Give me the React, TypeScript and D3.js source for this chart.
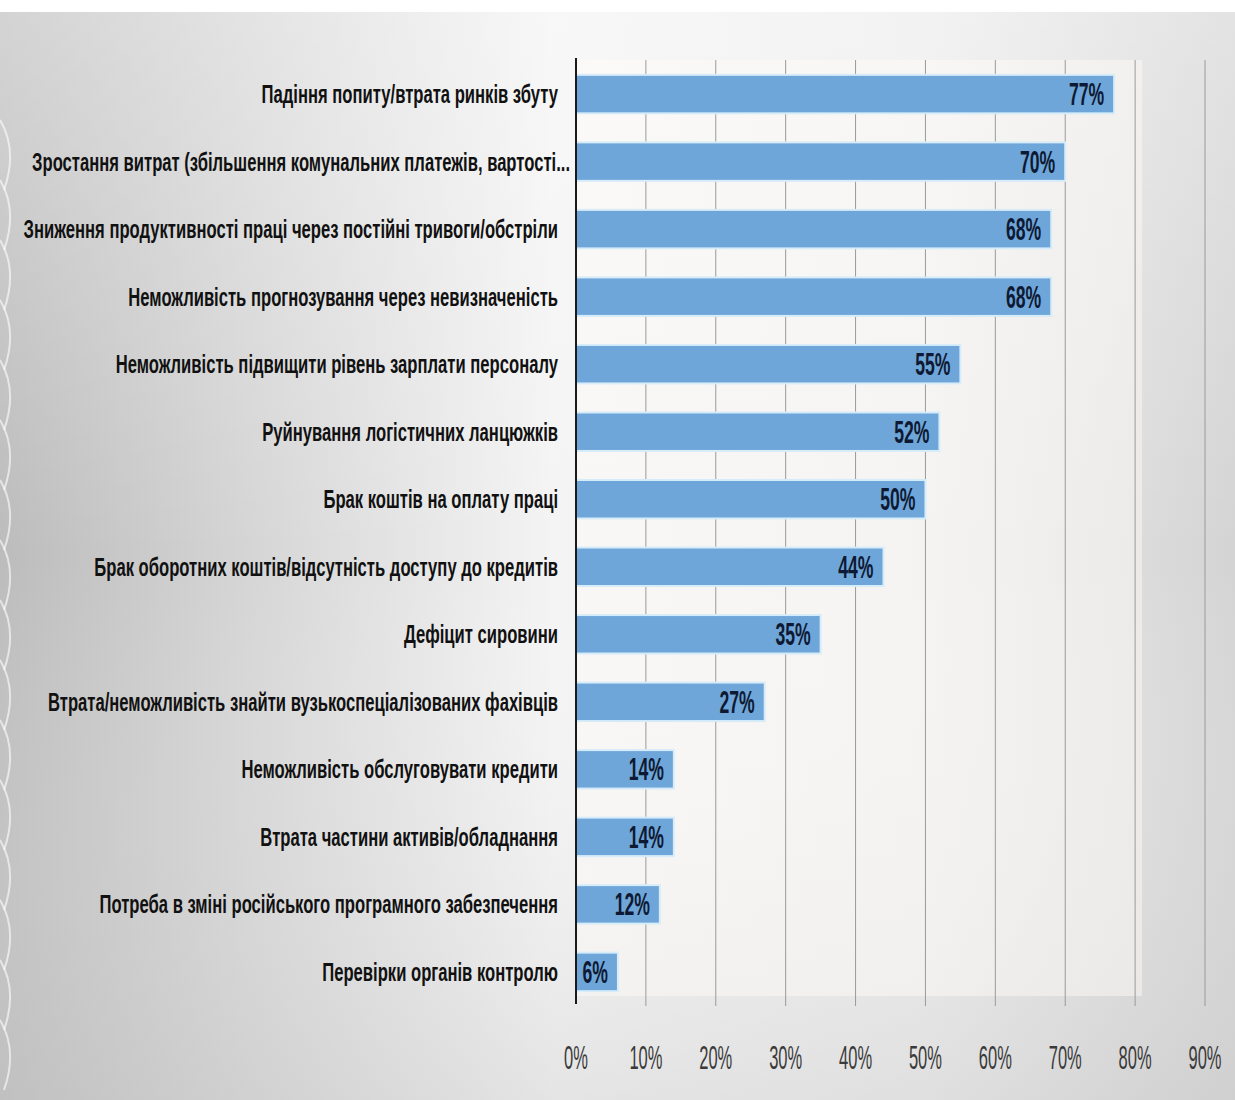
import React from "react";
import * as d3 from "d3";

const categories = [
  "Падіння попиту/втрата ринків збуту",
  "Зростання  витрат (збільшення комунальних платежів, вартості...",
  "Зниження продуктивності праці через постійні тривоги/обстріли",
  "Неможливість прогнозування через невизначеність",
  "Неможливість підвищити рівень зарплати персоналу",
  "Руйнування логістичних ланцюжків",
  "Брак коштів на оплату праці",
  "Брак оборотних коштів/відсутність доступу до кредитів",
  "Дефіцит сировини",
  "Втрата/неможливість знайти вузькоспеціалізованих фахівців",
  "Неможливість обслуговувати кредити",
  "Втрата частини активів/обладнання",
  "Потреба в зміні російського програмного забезпечення",
  "Перевірки органів контролю",
];
const values = [77, 70, 68, 68, 55, 52, 50, 44, 35, 27, 14, 14, 12, 6];
const ticks = [0, 10, 20, 30, 40, 50, 60, 70, 80, 90];

const W = 1235;
const H = 1100;
const FONT = "'Liberation Sans', Arial, sans-serif";

export default function App() {
  const x = d3.scaleLinear().domain([0, 90]).range([576, 1205]);
  const y = d3
    .scaleBand<string>()
    .domain(categories)
    .range([60, 1006])
    .paddingInner(0.43)
    .paddingOuter(0.22);
  const bw = y.bandwidth();
  const gridTop = 60;
  const gridBottom = 1006;

  return (
    <svg
      width={W}
      height={H}
      style={{ position: "absolute", left: 0, top: 0, display: "block" }}
    >
      <defs>
        <linearGradient id="bgH" x1="0" y1="0" x2="1" y2="0">
          <stop offset="0" stopColor="#bcbcbc" />
          <stop offset="0.45" stopColor="#f4f4f4" />
          <stop offset="0.75" stopColor="#ececec" />
          <stop offset="1" stopColor="#d4d4d4" />
        </linearGradient>
        <linearGradient id="bgV" x1="0" y1="0" x2="0" y2="1">
          <stop offset="0" stopColor="#ffffff" stopOpacity="0.35" />
          <stop offset="0.5" stopColor="#ffffff" stopOpacity="0" />
          <stop offset="1" stopColor="#c8c8c8" stopOpacity="0.35" />
        </linearGradient>
      </defs>
      <rect x={0} y={0} width={W} height={H} fill="#ffffff" />
      <rect x={0} y={12} width={W} height={H - 12} fill="url(#bgH)" />
      <rect x={0} y={12} width={W} height={H - 12} fill="url(#bgV)" />
      {/* faint decorative curves on the left edge */}
      <g fill="none" stroke="#ffffff" strokeOpacity={0.6} strokeWidth={2}>
        {d3.range(0, 16).map((i) => (
          <path
            key={i}
            d={`M0,${120 + i * 60} Q18,${150 + i * 60} 4,${190 + i * 60}`}
          />
        ))}
      </g>
      {/* plot area light tint */}
      <rect
        x={x(0)}
        y={gridTop}
        width={x(81) - x(0)}
        height={gridBottom - gridTop - 10}
        fill="#fffdf8"
        fillOpacity={0.45}
      />
      {/* gridlines */}
      <g>
        {ticks.slice(1).map((t) => (
          <line
            key={t}
            x1={x(t)}
            x2={x(t)}
            y1={gridTop}
            y2={gridBottom}
            stroke="#9a9a9a"
            strokeWidth={1}
          />
        ))}
      </g>
      {/* bars */}
      <g>
        {categories.map((c, i) => (
          <rect
            key={c}
            x={x(0)}
            y={y(c)!}
            width={x(values[i]) - x(0)}
            height={bw}
            fill="#6fa6d9"
            stroke="#d6ecf9"
            strokeWidth={2}
          />
        ))}
      </g>
      {/* axis line */}
      <line
        x1={x(0)}
        x2={x(0)}
        y1={gridTop - 2}
        y2={gridBottom - 2}
        stroke="#1a1a1a"
        strokeWidth={2}
      />
      {/* value labels */}
      <g>
        {categories.map((c, i) => (
          <g
            key={c}
            transform={`translate(${x(values[i]) - 10},${y(c)! + bw / 2 + 11}) scale(0.55,1)`}
          >
            <text
              textAnchor="end"
              fontFamily={FONT}
              fontWeight="bold"
              fontSize={32}
              fill="#0e1a33"
            >
              {values[i]}%
            </text>
          </g>
        ))}
      </g>
      {/* category labels */}
      <g>
        {categories.map((c, i) => (
          <g
            key={c}
            transform={`translate(${i === 1 ? 570 : 558},${y(c)! + bw / 2 + 9}) scale(0.665,1)`}
          >
            <text
              textAnchor="end"
              fontFamily={FONT}
              fontWeight="bold"
              fontSize={25}
              fill="#111111"
            >
              {c}
            </text>
          </g>
        ))}
      </g>
      {/* tick labels */}
      <g>
        {ticks.map((t) => (
          <g key={t} transform={`translate(${x(t)},1069) scale(0.5,1)`}>
            <text
              textAnchor="middle"
              fontFamily={FONT}
              fontSize={33}
              fill="#3a3a3a"
            >
              {t}%
            </text>
          </g>
        ))}
      </g>
    </svg>
  );
}
